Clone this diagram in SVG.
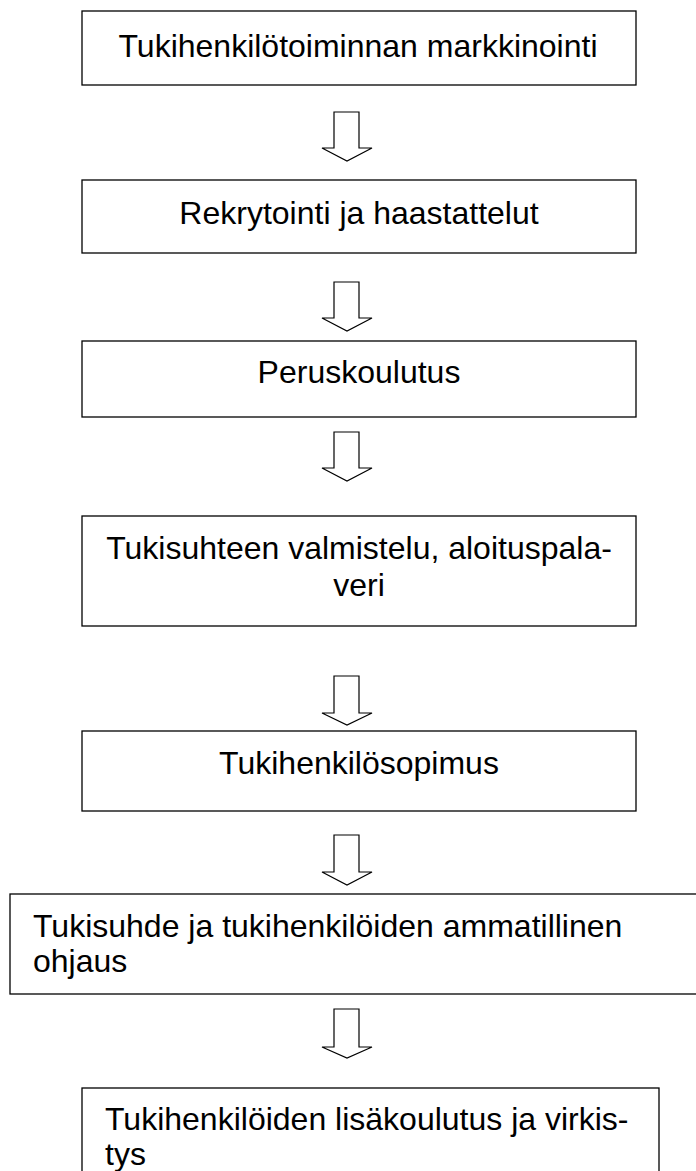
<svg xmlns="http://www.w3.org/2000/svg" width="696" height="1171" viewBox="0 0 696 1171">
<style>
.box{fill:#fff;stroke:#000;stroke-width:1.3}
.arr{fill:#fff;stroke:#000;stroke-width:1.2;stroke-linejoin:miter}
text{font-family:"Liberation Sans",Arial,sans-serif;font-size:32px;fill:#000}
.c{text-anchor:middle}
</style>
<rect width="696" height="1171" fill="#fff"/>
<g id="n1"><rect class="box" x="82" y="11" width="554" height="74"/><text class="c" x="358" y="57">Tukihenkilötoiminnan markkinointi</text></g>
<g id="n2"><rect class="box" x="82" y="180" width="554" height="73"/><text class="c" x="359" y="224">Rekrytointi ja haastattelut</text></g>
<g id="n3"><rect class="box" x="82" y="341" width="554" height="76"/><text class="c" x="359" y="383">Peruskoulutus</text></g>
<g id="n4"><rect class="box" x="82" y="516" width="554" height="110"/><text class="c" x="359" y="559">Tukisuhteen valmistelu, aloituspala-</text><text class="c" x="359" y="596">veri</text></g>
<g id="n5"><rect class="box" x="82" y="731" width="554" height="80"/><text class="c" x="359" y="774">Tukihenkilösopimus</text></g>
<g id="n6"><rect class="box" x="10" y="894" width="700" height="100"/><text x="33" y="937">Tukisuhde ja tukihenkilöiden ammatillinen</text><text x="33" y="972">ohjaus</text></g>
<g id="n7"><rect class="box" x="82" y="1088" width="577" height="100"/><text x="105" y="1130">Tukihenkilöiden lisäkoulutus ja virkis-</text><text x="105" y="1165">tys</text></g>
<g id="connectors">
<path class="arr" d="M334,112 H359 V148 H372 L347,161 L322,148 H334 Z"/>
<path class="arr" d="M334,282 H359 V318 H372 L347,331 L322,318 H334 Z"/>
<path class="arr" d="M334,432 H359 V468 H372 L347,481 L322,468 H334 Z"/>
<path class="arr" d="M334,676 H359 V713 H372 L347,725 L322,713 H334 Z"/>
<path class="arr" d="M334,835 H359 V872 H372 L347,885 L322,872 H334 Z"/>
<path class="arr" d="M334,1009 H359 V1047 H372 L347,1058 L322,1047 H334 Z"/>
</g>
</svg>
